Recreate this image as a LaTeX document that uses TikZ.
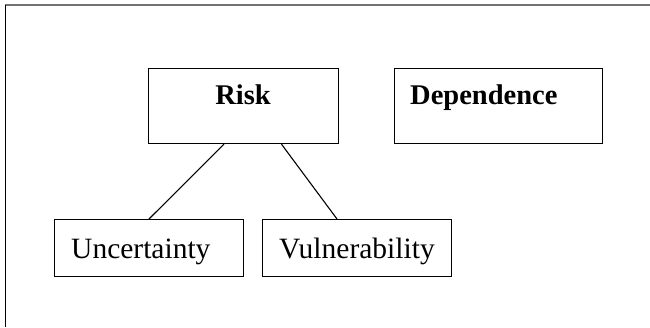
\documentclass[tikz,border=0pt]{standalone}
\usepackage{fontspec}
\setmainfont{Liberation Serif}
\begin{document}
\begin{tikzpicture}[x=1pt,y=-1pt,
  box/.style={draw=black,line width=1.2pt,rectangle,inner sep=0pt,anchor=north west},
  txt/.style={inner sep=0pt,font=\fontsize{28.5}{34}\selectfont},
  link/.style={draw=black,line width=1.1pt}]
  \useasboundingbox (0,0) rectangle (650,327);
  % page frame: grey top rule, black left rule
  \draw[line width=1.5pt,color=black!55] (5,5) -- (650,5);
  \draw[line width=1.5pt,color=black] (5.5,5) -- (5.5,327);

  % boxes
  \node[box,minimum width=190pt,minimum height=75pt] (risk) at (148,68) {};
  \node[box,minimum width=208pt,minimum height=75pt] (dep) at (394,68) {};
  \node[box,minimum width=189pt,minimum height=57pt] (unc) at (54,219) {};
  \node[box,minimum width=189pt,minimum height=57pt] (vul) at (262,219) {};

  % labels
  \node[txt,anchor=base] (risklbl) at ([xshift=95pt,yshift=-36pt]risk.north west) {\bfseries Risk};
  \node[txt,anchor=base west] (deplbl) at ([xshift=16pt,yshift=-36pt]dep.north west) {\bfseries Dependence};
  \node[txt,anchor=base west,font=\fontsize{29.5}{35}\selectfont] (unclbl) at ([xshift=17pt,yshift=-39pt]unc.north west) {Uncertainty};
  \node[txt,anchor=base west,font=\fontsize{29.5}{35}\selectfont] (vullbl) at ([xshift=17pt,yshift=-39pt]vul.north west) {Vulnerability};

  % connectors
  \draw[link] ([xshift=76pt]risk.south west) -- ([xshift=95pt]unc.north west);
  \draw[link] ([xshift=133.5pt]risk.south west) -- ([xshift=75pt]vul.north west);
\end{tikzpicture}
\end{document}
